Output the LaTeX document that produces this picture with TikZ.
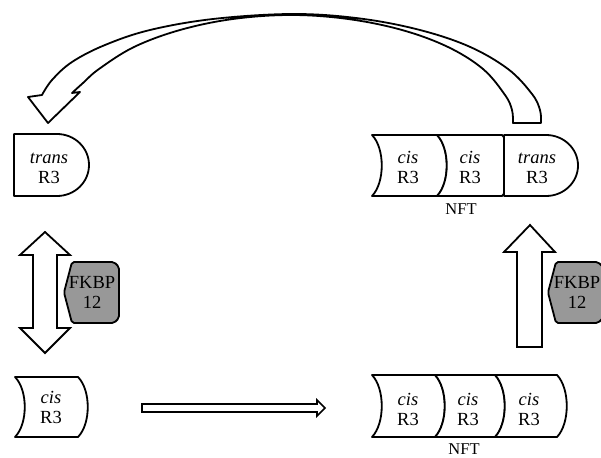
\documentclass[tikz,border=0pt]{standalone}
\usepackage{fontspec}
\setmainfont{Liberation Serif}
\definecolor{fkbpgray}{RGB}{152,152,152}
\tikzset{
  unitbox/.style={draw=black, line width=1.8pt, fill=white, line join=round},
  blockarrow/.style={draw=black, line width=1.8pt, fill=white, line join=miter},
  fkbpbox/.style={draw=black, line width=1.8pt, fill=fkbpgray, line join=round},
  lbl/.style={font=\fontsize{18.5}{20}\selectfont, align=center, inner sep=0pt},
  nftlbl/.style={font=\fontsize{16.5}{18}\selectfont, inner sep=0pt}
}
% cis residue: concave left side, convex right side
% #1 left x, #2 top y, #3 width, #4 height
\newcommand\cisunit[4]{%
  \draw[unitbox] (#1,#2) -- ({#1+#3},#2)
    .. controls ({#1+#3+13},{#2+0.22*#4}) and ({#1+#3+13},{#2+0.78*#4}) .. ({#1+#3},{#2+#4})
    -- (#1,{#2+#4})
    .. controls ({#1+13},{#2+0.78*#4}) and ({#1+13},{#2+0.22*#4}) .. (#1,#2) -- cycle;}
% trans residue: straight left side, rounded right end
\newcommand\transunit[4]{%
  \draw[unitbox] (#1,#2) -- ({#1+#3-32},#2)
    .. controls ({#1+#3-14.3},#2) and ({#1+#3},{#2+0.224*#4}) .. ({#1+#3},{#2+0.5*#4})
    .. controls ({#1+#3},{#2+0.776*#4}) and ({#1+#3-14.3},{#2+#4}) .. ({#1+#3-32},{#2+#4})
    -- (#1,{#2+#4}) -- cycle;}
% FKBP12 tag: pointed left side
\newcommand\fkbptag[3]{% #1 left point x, #2 top y, #3 bottom y
  \draw[fkbpbox, rounded corners=2pt] (#1,{(#2+#3)/2}) -- ({#1+8},#2) -- ({#1+50},#2)
    -- ({#1+55},{#2+5}) -- ({#1+55},{#3-5}) -- ({#1+50},#3) -- ({#1+8},#3) -- cycle;}
\begin{document}
\begin{tikzpicture}[x=1pt, y=-1pt]
\useasboundingbox (0,0) rectangle (601,457);
\clip (0,0) rectangle (601,457);
\fill[white] (0,0) rectangle (601,457);

% ---- large curved return arrow ----
\draw[blockarrow, line join=round]
  plot[smooth, tension=0.6] coordinates {(541,123) (540,110) (532,94) (508,69) (468,46)
     (416,29) (356,18) (291,14) (213,19) (150,30) (105,45) (72,62) (52,80) (42,95)}
  -- (28,97) -- (48,123) -- (80,92)
  -- plot[smooth, tension=0.6] coordinates {(72,93) (83,83) (99,69) (134,47) (180,30)
     (233,19) (291,15) (348,19) (402,30) (448,47) (483,69) (505,95) (512,110) (513,123)}
  -- cycle;

% ---- top left: single trans R3 ----
\transunit{14}{134}{75}{62}
\node[lbl] (tL) at (49,169.5) {\strut\textit{trans}\\\strut R3};

% ---- top right: NFT with cis, cis, trans ----
\cisunit{372}{135}{65}{61}
\cisunit{437}{135}{65}{61}
\transunit{504}{135}{74}{61}
\node[lbl] (tc1) at (408,169) {\strut\textit{cis}\\\strut R3};
\node[lbl] (tc2) at (470,169) {\strut\textit{cis}\\\strut R3};
\node[lbl] (tt3) at (537,169) {\strut\textit{trans}\\\strut R3};
\node[nftlbl] (nftTop) at (461,211) {\strut NFT};

% ---- bottom left: single cis R3 ----
\cisunit{15}{377}{63}{60}
\node[lbl] (bL) at (51,409.5) {\strut\textit{cis}\\\strut R3};

% ---- bottom right: NFT with three cis ----
\cisunit{372}{375}{63}{62}
\cisunit{435}{375}{60}{62}
\cisunit{495}{375}{62}{62}
\node[lbl] (bc1) at (408,411) {\strut\textit{cis}\\\strut R3};
\node[lbl] (bc2) at (468,411) {\strut\textit{cis}\\\strut R3};
\node[lbl] (bc3) at (529,411) {\strut\textit{cis}\\\strut R3};
\node[nftlbl] (nftBot) at (464,451) {\strut NFT};

% ---- left: reversible isomerisation (double arrow) with FKBP12 ----
\draw[blockarrow] (45,232) -- (70,255) -- (57,255) -- (57,328) -- (70,328) -- (45,353)
  -- (20,328) -- (33,328) -- (33,255) -- (20,255) -- cycle;
\fkbptag{64}{262}{323}
\node[lbl] (fkL) at (92,294.5) {\strut FKBP\\\strut 12};

% ---- right: upward arrow with FKBP12 ----
\draw[blockarrow] (530,225) -- (555,252) -- (542,252) -- (542,347) -- (517,347)
  -- (517,252) -- (504,252) -- cycle;
\fkbptag{548}{262}{323}
\node[lbl] (fkR) at (577,294.5) {\strut FKBP\\\strut 12};

% ---- bottom: assembly arrow ----
\draw[blockarrow, line width=1.6pt] (142,404) -- (317,404) -- (317,400) -- (325,408)
  -- (317,416) -- (317,412) -- (142,412) -- cycle;
\end{tikzpicture}
\end{document}
